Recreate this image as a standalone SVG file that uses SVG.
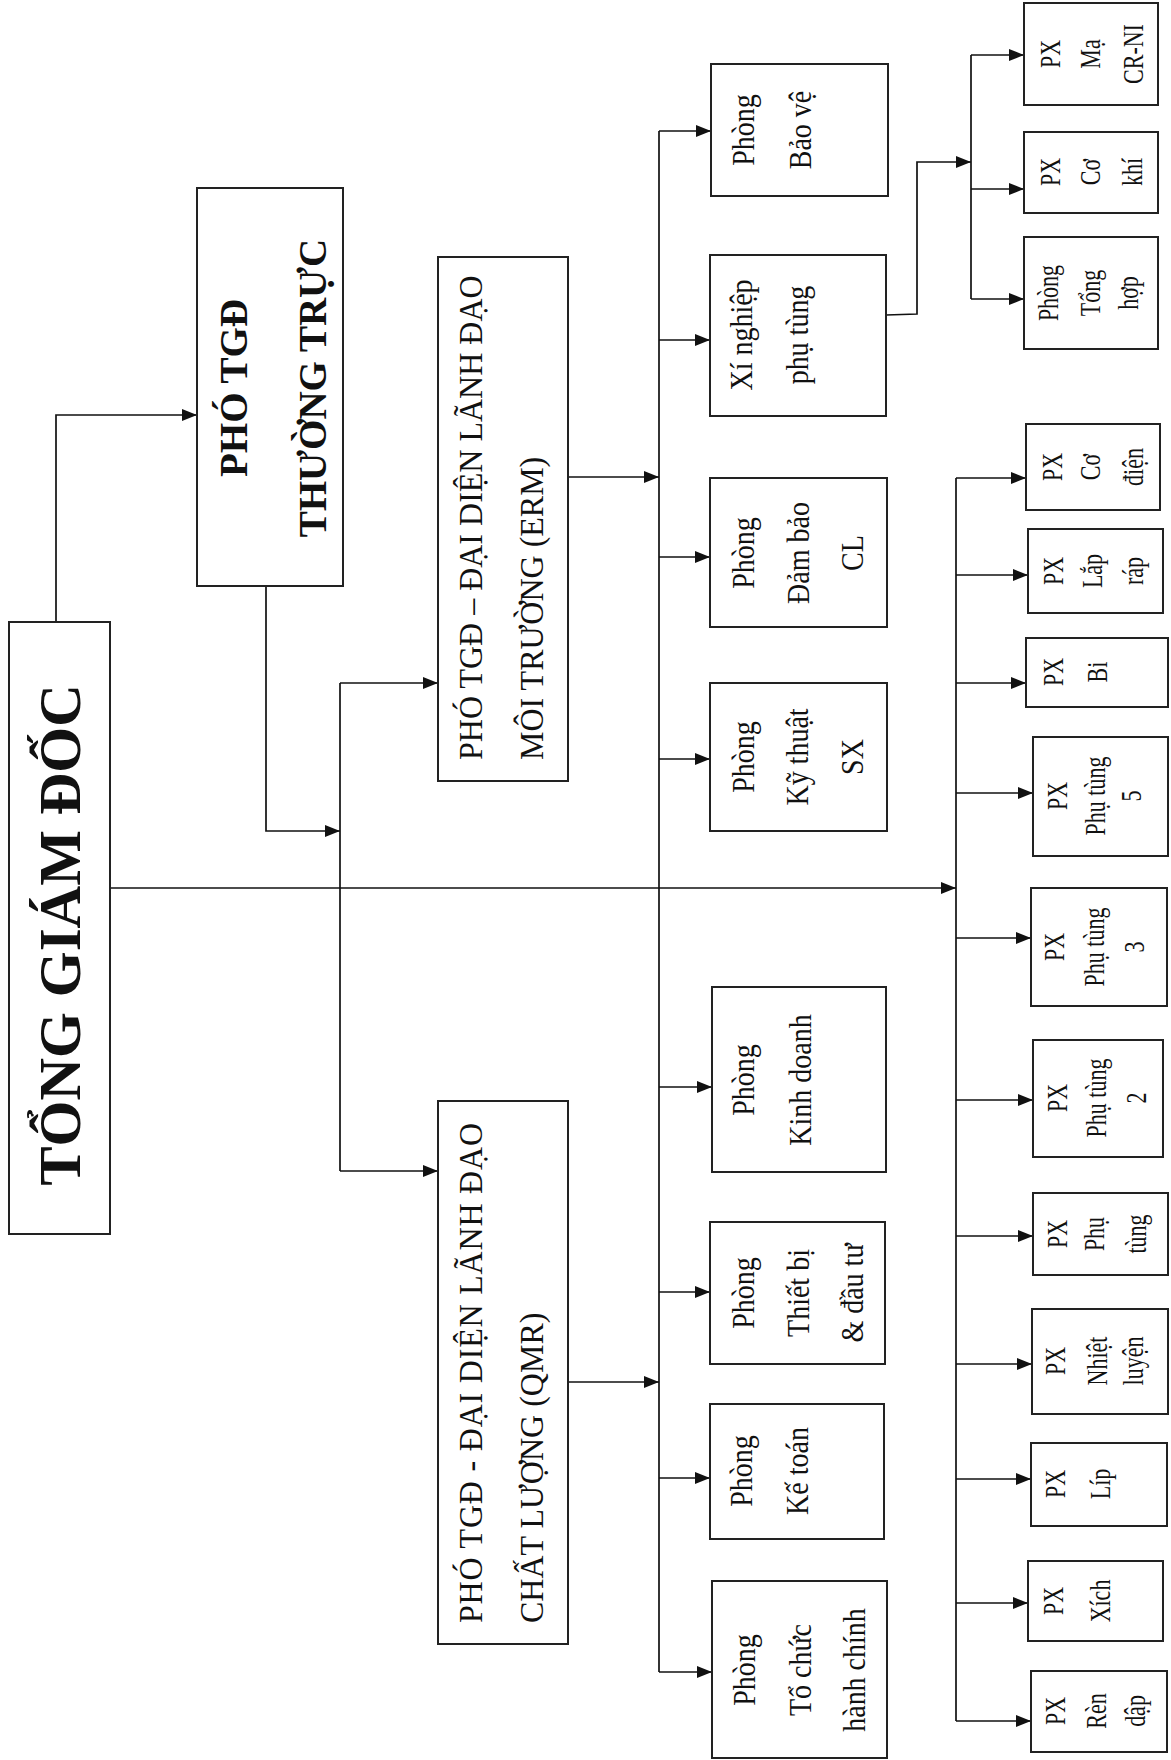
<svg xmlns="http://www.w3.org/2000/svg" width="1171" height="1760" viewBox="0 0 1171 1760">
<style>
.box{fill:#fff;stroke:#222;stroke-width:2}
.t{font-family:"Liberation Serif","Times New Roman",serif;fill:#111}
.b{font-weight:bold}
.big{font-size:59px}
.ttl{font-size:39px}
.mid{font-size:32px}
.ph{font-size:28px}
.px{font-size:22px}
.c{text-anchor:middle}
.ln{fill:none;stroke:#111;stroke-width:1.7}
.ar{marker-end:url(#ah)}
</style>
<defs>
<marker id="ah" viewBox="0 0 15 12" refX="15" refY="6" markerWidth="15" markerHeight="12" markerUnits="userSpaceOnUse" orient="auto"><path d="M0,0 L15,6 L0,12 z" fill="#111"/></marker>
</defs>
<rect width="1171" height="1760" fill="#fff"/>
<g id="connectors">
<path class="ln ar" d="M56,622 V415 H197"/>
<path class="ln ar" d="M266,586 V831 H340"/>
<path class="ln" d="M340,683 V1171"/>
<path class="ln ar" d="M340,683 H438"/>
<path class="ln ar" d="M340,1171 H438"/>
<path class="ln ar" d="M110,888 H956"/>
<path class="ln ar" d="M568,477 H659"/>
<path class="ln ar" d="M568,1382 H659"/>
<path class="ln" d="M659,131 V1672"/>
<path class="ln ar" d="M659,131 H711"/>
<path class="ln ar" d="M659,340 H710"/>
<path class="ln ar" d="M659,557 H710"/>
<path class="ln ar" d="M659,759 H710"/>
<path class="ln ar" d="M659,1087 H712"/>
<path class="ln ar" d="M659,1292 H710"/>
<path class="ln ar" d="M659,1478 H710"/>
<path class="ln ar" d="M659,1672 H712"/>
<path class="ln ar" d="M886,315 L917,314 V162 H971"/>
<path class="ln" d="M971,55 V299"/>
<path class="ln ar" d="M971,55 H1024"/>
<path class="ln ar" d="M971,189 H1024"/>
<path class="ln ar" d="M971,299 H1024"/>
<path class="ln" d="M956,478 V1721"/>
<path class="ln ar" d="M956,478 H1026"/>
<path class="ln ar" d="M956,575 H1028"/>
<path class="ln ar" d="M956,683 H1026"/>
<path class="ln ar" d="M956,793 H1033"/>
<path class="ln ar" d="M956,938 H1031"/>
<path class="ln ar" d="M956,1100 H1033"/>
<path class="ln ar" d="M956,1236 H1033"/>
<path class="ln ar" d="M956,1364 H1032"/>
<path class="ln ar" d="M956,1479 H1031"/>
<path class="ln ar" d="M956,1603 H1028"/>
<path class="ln ar" d="M956,1721 H1031"/>
</g>
<g id="tgd"><rect class="box" x="9" y="622" width="101" height="612"/>
<text class="t b big c" transform="translate(80,935) rotate(-90)">TỔNG GIÁM ĐỐC</text></g>
<g id="ptgd-tt"><rect class="box" x="197" y="188" width="146" height="398"/>
<text class="t b ttl c" transform="translate(247,388) rotate(-90) scale(1,1.05)">PHÓ TGĐ</text>
<text class="t b ttl c" transform="translate(326,388) rotate(-90) scale(1,1.05)">THƯỜNG TRỰC</text></g>
<g id="erm"><rect class="box" x="438" y="257" width="130" height="524"/>
<text class="t mid" transform="translate(482,760) rotate(-90) scale(1,1.08)">PHÓ TGĐ – ĐẠI DIỆN LÃNH ĐẠO</text>
<text class="t mid" transform="translate(543,760) rotate(-90) scale(1,1.08)">MÔI TRƯỜNG (ERM)</text></g>
<g id="qmr"><rect class="box" x="438" y="1101" width="130" height="543"/>
<text class="t mid" transform="translate(482,1623) rotate(-90) scale(1,1.08)" textLength="500" lengthAdjust="spacing">PHÓ TGĐ - ĐẠI DIỆN LÃNH ĐẠO</text>
<text class="t mid" transform="translate(543,1623) rotate(-90) scale(1,1.08)">CHẤT LƯỢNG (QMR)</text></g>
<g id="bao-ve"><rect class="box" x="711" y="64" width="177" height="132"/>
<text class="t ph c" transform="translate(754,130) rotate(-90) scale(1,1.13)">Phòng</text>
<text class="t ph c" transform="translate(811,130) rotate(-90) scale(1,1.13)">Bảo vệ</text></g>
<g id="xi-nghiep"><rect class="box" x="710" y="255" width="176" height="161"/>
<text class="t ph c" transform="translate(752,335) rotate(-90) scale(1,1.13)">Xí nghiệp</text>
<text class="t ph c" transform="translate(808,335) rotate(-90) scale(1,1.13)">phụ tùng</text></g>
<g id="dam-bao"><rect class="box" x="710" y="478" width="177" height="149"/>
<text class="t ph c" transform="translate(754,553) rotate(-90) scale(1,1.13)">Phòng</text>
<text class="t ph c" transform="translate(809,553) rotate(-90) scale(1,1.13)">Đảm bảo</text>
<text class="t ph c" transform="translate(863,553) rotate(-90) scale(1,1.13)">CL</text></g>
<g id="ky-thuat"><rect class="box" x="710" y="683" width="177" height="148"/>
<text class="t ph c" transform="translate(754,757) rotate(-90) scale(1,1.13)">Phòng</text>
<text class="t ph c" transform="translate(808,757) rotate(-90) scale(1,1.13)">Kỹ thuật</text>
<text class="t ph c" transform="translate(863,757) rotate(-90) scale(1,1.13)">SX</text></g>
<g id="kinh-doanh"><rect class="box" x="712" y="987" width="174" height="185"/>
<text class="t ph c" transform="translate(754,1080) rotate(-90) scale(1,1.13)">Phòng</text>
<text class="t ph c" transform="translate(811,1080) rotate(-90) scale(1,1.13)">Kinh doanh</text></g>
<g id="thiet-bi"><rect class="box" x="710" y="1222" width="175" height="142"/>
<text class="t ph c" transform="translate(754,1293) rotate(-90) scale(1,1.13)">Phòng</text>
<text class="t ph c" transform="translate(809,1293) rotate(-90) scale(1,1.13)">Thiết bị</text>
<text class="t ph c" transform="translate(863,1293) rotate(-90) scale(1,1.13)">&amp; đầu tư</text></g>
<g id="ke-toan"><rect class="box" x="710" y="1404" width="174" height="135"/>
<text class="t ph c" transform="translate(752,1471) rotate(-90) scale(1,1.13)">Phòng</text>
<text class="t ph c" transform="translate(808,1471) rotate(-90) scale(1,1.13)">Kế toán</text></g>
<g id="to-chuc"><rect class="box" x="712" y="1581" width="175" height="177"/>
<text class="t ph c" transform="translate(755,1670) rotate(-90) scale(1,1.13)">Phòng</text>
<text class="t ph c" transform="translate(811,1670) rotate(-90) scale(1,1.13)">Tổ chức</text>
<text class="t ph c" transform="translate(865,1670) rotate(-90) scale(1,1.13)">hành chính</text></g>
<g id="px-ma"><rect class="box" x="1024" y="3" width="134" height="102"/>
<text class="t px c" transform="translate(1060,54) rotate(-90) scale(1,1.3)">PX</text>
<text class="t px c" transform="translate(1100,54) rotate(-90) scale(1,1.3)">Mạ</text>
<text class="t px c" transform="translate(1143,54) rotate(-90) scale(1,1.3)">CR-NI</text></g>
<g id="px-co-khi"><rect class="box" x="1024" y="132" width="134" height="81"/>
<text class="t px c" transform="translate(1060,172) rotate(-90) scale(1,1.3)">PX</text>
<text class="t px c" transform="translate(1100,172) rotate(-90) scale(1,1.3)">Cơ</text>
<text class="t px c" transform="translate(1142,172) rotate(-90) scale(1,1.3)">khí</text></g>
<g id="tong-hop"><rect class="box" x="1024" y="237" width="134" height="112"/>
<text class="t px c" transform="translate(1058,293) rotate(-90) scale(1,1.3)">Phòng</text>
<text class="t px c" transform="translate(1100,293) rotate(-90) scale(1,1.3)">Tổng</text>
<text class="t px c" transform="translate(1138,293) rotate(-90) scale(1,1.3)">hợp</text></g>
<g id="px-co-dien"><rect class="box" x="1026" y="424" width="134" height="86"/>
<text class="t px c" transform="translate(1062,467) rotate(-90) scale(1,1.3)">PX</text>
<text class="t px c" transform="translate(1100,467) rotate(-90) scale(1,1.3)">Cơ</text>
<text class="t px c" transform="translate(1143,467) rotate(-90) scale(1,1.3)">điện</text></g>
<g id="px-lap-rap"><rect class="box" x="1028" y="529" width="135" height="84"/>
<text class="t px c" transform="translate(1063,571) rotate(-90) scale(1,1.3)">PX</text>
<text class="t px c" transform="translate(1102,571) rotate(-90) scale(1,1.3)">Lắp</text>
<text class="t px c" transform="translate(1143,571) rotate(-90) scale(1,1.3)">ráp</text></g>
<g id="px-bi"><rect class="box" x="1026" y="638" width="142" height="69"/>
<text class="t px c" transform="translate(1063,672) rotate(-90) scale(1,1.3)">PX</text>
<text class="t px c" transform="translate(1107,672) rotate(-90) scale(1,1.3)">Bi</text></g>
<g id="px-pt5"><rect class="box" x="1033" y="737" width="135" height="119"/>
<text class="t px c" transform="translate(1067,796) rotate(-90) scale(1,1.3)">PX</text>
<text class="t px c" transform="translate(1105,796) rotate(-90) scale(1,1.3)">Phụ tùng</text>
<text class="t px c" transform="translate(1141,796) rotate(-90) scale(1,1.3)">5</text></g>
<g id="px-pt3"><rect class="box" x="1031" y="888" width="136" height="118"/>
<text class="t px c" transform="translate(1064,947) rotate(-90) scale(1,1.3)">PX</text>
<text class="t px c" transform="translate(1104,947) rotate(-90) scale(1,1.3)">Phụ tùng</text>
<text class="t px c" transform="translate(1144,947) rotate(-90) scale(1,1.3)">3</text></g>
<g id="px-pt2"><rect class="box" x="1033" y="1040" width="130" height="117"/>
<text class="t px c" transform="translate(1067,1098) rotate(-90) scale(1,1.3)">PX</text>
<text class="t px c" transform="translate(1106,1098) rotate(-90) scale(1,1.3)">Phụ tùng</text>
<text class="t px c" transform="translate(1146,1098) rotate(-90) scale(1,1.3)">2</text></g>
<g id="px-pt"><rect class="box" x="1033" y="1193" width="135" height="82"/>
<text class="t px c" transform="translate(1067,1234) rotate(-90) scale(1,1.3)">PX</text>
<text class="t px c" transform="translate(1104,1234) rotate(-90) scale(1,1.3)">Phụ</text>
<text class="t px c" transform="translate(1146,1234) rotate(-90) scale(1,1.3)">tùng</text></g>
<g id="px-nhiet-luyen"><rect class="box" x="1032" y="1309" width="136" height="105"/>
<text class="t px c" transform="translate(1065,1361) rotate(-90) scale(1,1.3)">PX</text>
<text class="t px c" transform="translate(1107,1361) rotate(-90) scale(1,1.3)">Nhiệt</text>
<text class="t px c" transform="translate(1143,1361) rotate(-90) scale(1,1.3)">luyện</text></g>
<g id="px-lip"><rect class="box" x="1031" y="1443" width="136" height="83"/>
<text class="t px c" transform="translate(1065,1484) rotate(-90) scale(1,1.3)">PX</text>
<text class="t px c" transform="translate(1110,1484) rotate(-90) scale(1,1.3)">Líp</text></g>
<g id="px-xich"><rect class="box" x="1028" y="1561" width="135" height="80"/>
<text class="t px c" transform="translate(1063,1601) rotate(-90) scale(1,1.3)">PX</text>
<text class="t px c" transform="translate(1110,1601) rotate(-90) scale(1,1.3)">Xích</text></g>
<g id="px-ren-dap"><rect class="box" x="1031" y="1671" width="136" height="81"/>
<text class="t px c" transform="translate(1065,1711) rotate(-90) scale(1,1.3)">PX</text>
<text class="t px c" transform="translate(1106,1711) rotate(-90) scale(1,1.3)">Rèn</text>
<text class="t px c" transform="translate(1145,1711) rotate(-90) scale(1,1.3)">dập</text></g>
</svg>
